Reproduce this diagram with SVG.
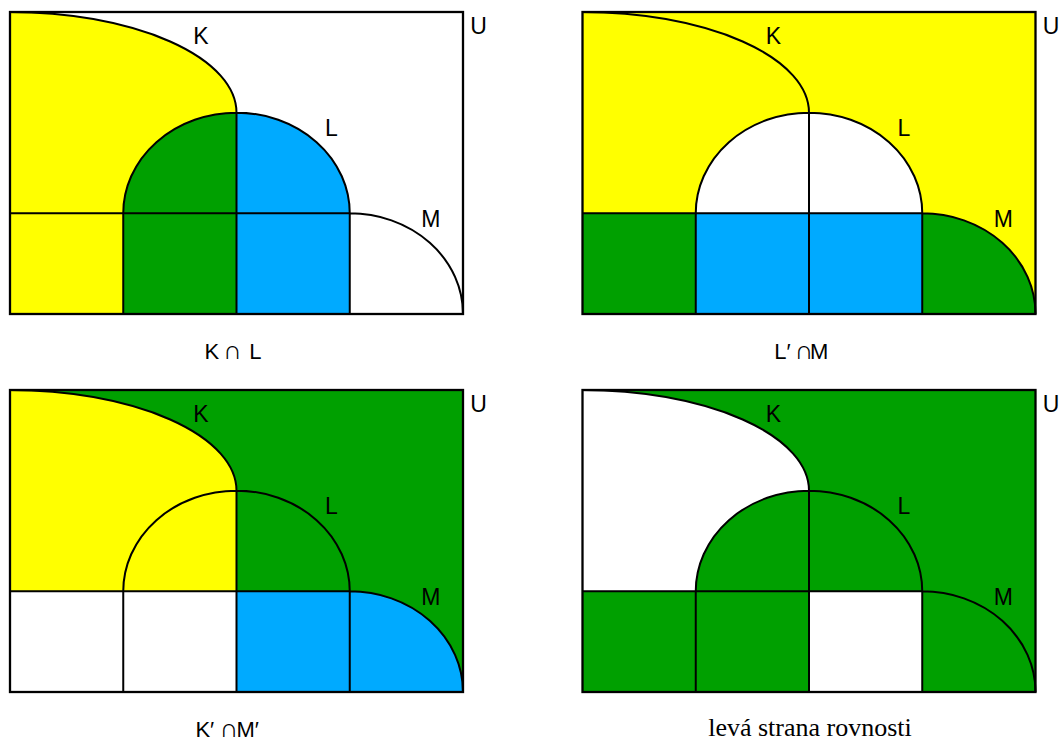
<svg xmlns="http://www.w3.org/2000/svg" xmlns:xlink="http://www.w3.org/1999/xlink" width="1062" height="742" viewBox="0 0 1062 742">
<style>
.y{fill:#FFFF00}.g{fill:#00A000}.b{fill:#00AAFF}.w{fill:#FFFFFF}
.ln{fill:none;stroke:#000;stroke-width:2}
.fr{fill:none;stroke:#000;stroke-width:2.3}
.lb{font-family:"Liberation Sans",Arial,sans-serif;font-size:23px;fill:#000}
.cap{font-family:"Liberation Sans",Arial,sans-serif;font-size:22px;fill:#000}
.cup{font-size:26px;letter-spacing:-6px}
.capS{font-family:"Liberation Serif","Times New Roman",serif;font-size:26px;fill:#000}
</style>
<defs>
<path id="rA" d="M0,0 A226.5,100.67 0 0 1 226.5,100.67 A113.25,100.67 0 0 0 113.25,201.33 L0,201.33 Z"/>
<path id="rB" d="M113.25,201.33 A113.25,100.67 0 0 1 226.5,100.67 L226.5,201.33 Z"/>
<path id="rC" d="M226.5,100.67 A113.25,100.67 0 0 1 339.75,201.33 L226.5,201.33 Z"/>
<path id="rD" d="M0,0 L453,0 L453,302 A113.25,100.67 0 0 0 339.75,201.33 A113.25,100.67 0 0 0 226.5,100.67 A226.5,100.67 0 0 0 0,0 Z"/>
<rect id="rE" x="0" y="201.33" width="113.25" height="100.67"/>
<rect id="rF" x="113.25" y="201.33" width="113.25" height="100.67"/>
<rect id="rG" x="226.5" y="201.33" width="113.25" height="100.67"/>
<path id="rH" d="M339.75,201.33 A113.25,100.67 0 0 1 453,302 L339.75,302 Z"/>
<g id="lines">
<path class="ln" d="M0,0 A226.5,100.67 0 0 1 226.5,100.67 M113.25,201.33 A113.25,100.67 0 0 1 339.75,201.33 A113.25,100.67 0 0 1 453,302 M0,201.33 H339.75 M113.25,201.33 V302 M226.5,100.67 V302 M339.75,201.33 V302"/>
<rect class="fr" x="0" y="0" width="453" height="302"/>
</g>
<g id="labels">
<text class="lb" x="183.3" y="32">K</text>
<text class="lb" x="315" y="124">L</text>
<text class="lb" x="411.3" y="215">M</text>
<text class="lb" x="460.2" y="22">U</text>
</g>
</defs>

<g id="panel-KL" transform="translate(10,12)">
<use href="#rA" class="y"/><use href="#rB" class="g"/><use href="#rC" class="b"/><use href="#rD" class="w"/>
<use href="#rE" class="y"/><use href="#rF" class="g"/><use href="#rG" class="b"/><use href="#rH" class="w"/>
<use href="#lines"/><use href="#labels"/>
</g>

<g id="panel-LpM" transform="translate(582.5,12)">
<use href="#rA" class="y"/><use href="#rB" class="w"/><use href="#rC" class="w"/><use href="#rD" class="y"/>
<use href="#rE" class="g"/><use href="#rF" class="b"/><use href="#rG" class="b"/><use href="#rH" class="g"/>
<use href="#lines"/><use href="#labels"/>
</g>

<g id="panel-KpMp" transform="translate(10,390)">
<use href="#rA" class="y"/><use href="#rB" class="y"/><use href="#rC" class="g"/><use href="#rD" class="g"/>
<use href="#rE" class="w"/><use href="#rF" class="w"/><use href="#rG" class="b"/><use href="#rH" class="b"/>
<use href="#lines"/><use href="#labels"/>
</g>

<g id="panel-left" transform="translate(582.5,390)">
<use href="#rA" class="w"/><use href="#rB" class="g"/><use href="#rC" class="g"/><use href="#rD" class="g"/>
<use href="#rE" class="g"/><use href="#rF" class="g"/><use href="#rG" class="w"/><use href="#rH" class="g"/>
<use href="#lines"/><use href="#labels"/>
</g>

<g id="captions">
<text class="cap" y="359"><tspan x="204.4">K</tspan><tspan class="cup" x="223">∩</tspan><tspan x="249.3">L</tspan></text>
<text class="cap" y="359"><tspan x="774.3">L</tspan><tspan x="786.5">′</tspan><tspan class="cup" x="794.5">∩</tspan><tspan x="810.1">M</tspan></text>
<text class="cap" y="737"><tspan x="195.4">K</tspan><tspan x="210">′</tspan><tspan class="cup" x="219.5">∩</tspan><tspan x="236.4">M</tspan><tspan x="254.8">′</tspan></text>
<text class="capS" x="810" y="736" text-anchor="middle">levá strana rovnosti</text>
</g>
</svg>
